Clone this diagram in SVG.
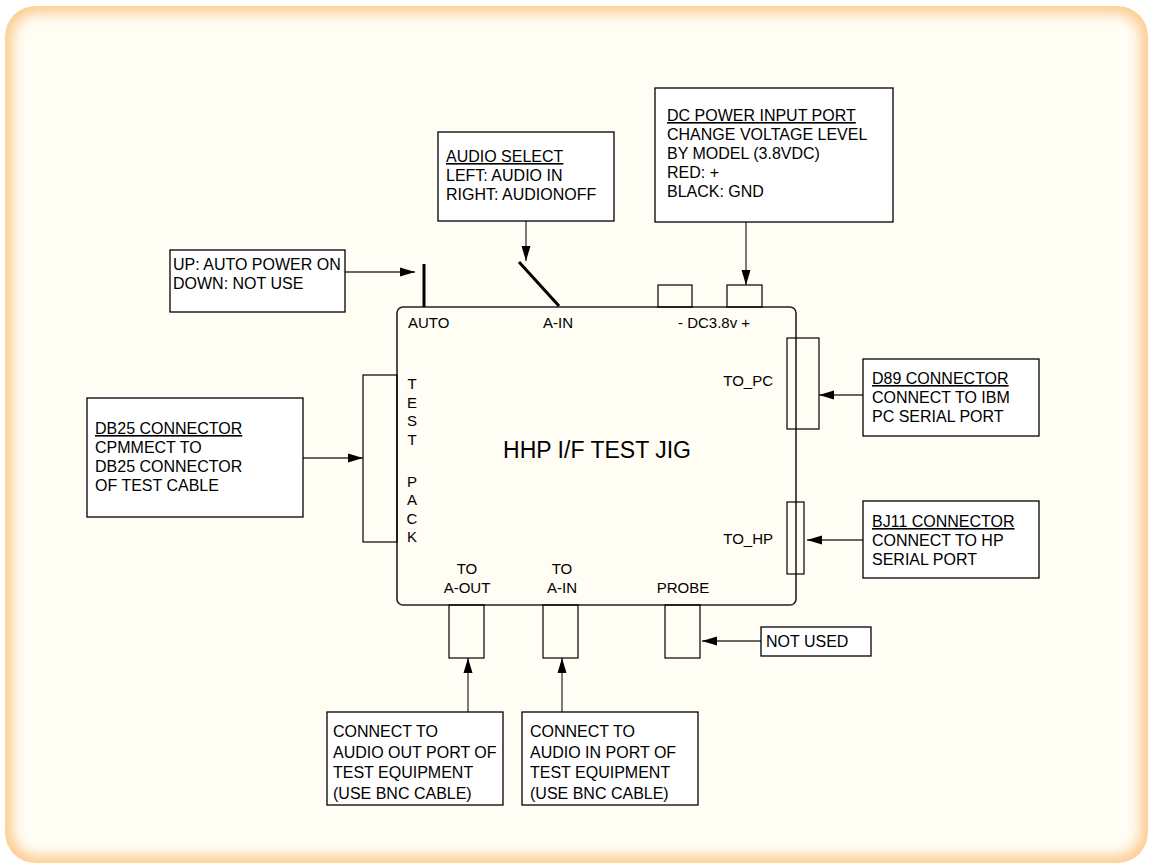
<svg xmlns="http://www.w3.org/2000/svg" width="1149" height="865" viewBox="0 0 1149 865">
<style>
.box{fill:#FFFFFF;stroke:#000;stroke-width:1.3}
.port{fill:none;stroke:#000;stroke-width:1.2}
.t{font-family:"Liberation Sans",Arial,sans-serif;font-size:16px;fill:#000}
.l{font-family:"Liberation Sans",Arial,sans-serif;font-size:15px;fill:#000}
.c{stroke:#333;stroke-width:1.3;fill:none}
.sw{stroke:#000;stroke-width:3;fill:none}
</style>
<defs>
<marker id="ah" markerUnits="userSpaceOnUse" markerWidth="16" markerHeight="10" refX="15" refY="5" orient="auto">
<path d="M0,0.5 L15,5 L0,9.5 Z" fill="#000"/>
</marker>
<clipPath id="bgc"><rect x="5" y="6" width="1143" height="857" rx="30"/></clipPath>
<filter id="blur" x="-5%" y="-5%" width="110%" height="110%"><feGaussianBlur stdDeviation="6"/></filter>
</defs>
<g id="background" clip-path="url(#bgc)">
<rect x="5" y="6" width="1143" height="857" rx="30" fill="#FDCF95"/>
<rect x="13" y="14" width="1127" height="841" rx="24" fill="#FFFDF4" filter="url(#blur)"/>
</g>
<g id="connectors">
<line class="c" x1="345" y1="272" x2="415" y2="272" marker-end="url(#ah)"/>
<line class="c" x1="526" y1="221" x2="526" y2="261" marker-end="url(#ah)"/>
<line class="c" x1="746" y1="222" x2="746" y2="285" marker-end="url(#ah)"/>
<line class="c" x1="303" y1="458" x2="363" y2="458" marker-end="url(#ah)"/>
<line class="c" x1="863" y1="395" x2="819" y2="395" marker-end="url(#ah)"/>
<line class="c" x1="863" y1="540" x2="807" y2="540" marker-end="url(#ah)"/>
<line class="c" x1="761" y1="641" x2="702" y2="641" marker-end="url(#ah)"/>
<line class="c" x1="468" y1="712" x2="468" y2="658" marker-end="url(#ah)"/>
<line class="c" x1="562" y1="712" x2="562" y2="658" marker-end="url(#ah)"/>
</g>
<g id="jig">
<rect x="397" y="307" width="399" height="298" rx="6" fill="none" stroke="#222" stroke-width="1.6"/>
<line class="sw" x1="424" y1="264" x2="424" y2="307"/>
<line class="sw" x1="519" y1="262" x2="559" y2="306"/>
<rect class="port" x="658" y="285" width="34" height="22"/>
<rect class="port" x="727" y="285" width="35" height="22"/>
<rect class="port" x="363" y="375" width="34" height="167"/>
<rect class="port" x="787" y="338" width="32" height="91"/>
<rect class="port" x="787" y="502" width="17" height="72"/>
<rect class="port" x="449" y="605" width="35" height="53"/>
<rect class="port" x="543" y="605" width="35" height="53"/>
<rect class="port" x="665" y="605" width="35" height="53"/>
<text class="l" x="408" y="328">AUTO</text>
<text class="l" x="543" y="328">A-IN</text>
<text class="l" x="678" y="328">- DC3.8v +</text>
<text class="l" x="773" y="386" text-anchor="end">TO_PC</text>
<text class="l" x="773" y="543.5" text-anchor="end">TO_HP</text>
<g class="l" text-anchor="middle">
<text x="412" y="389">T</text>
<text x="412" y="407.5">E</text>
<text x="412" y="426">S</text>
<text x="412" y="444.5">T</text>
<text x="412" y="487">P</text>
<text x="412" y="505">A</text>
<text x="412" y="523.5">C</text>
<text x="412" y="542">K</text>
<text x="467" y="574">TO</text>
<text x="467" y="593">A-OUT</text>
<text x="562" y="574">TO</text>
<text x="562" y="593">A-IN</text>
<text x="683" y="593">PROBE</text>
</g>
<text x="597" y="458" text-anchor="middle" font-family="Liberation Sans, Arial, sans-serif" font-size="23">HHP I/F TEST JIG</text>
</g>
<g id="auto-note">
<rect class="box" x="170" y="250" width="175" height="62"/>
<text class="t" x="173" y="269.5">UP: AUTO POWER ON</text>
<text class="t" x="173" y="288.5">DOWN: NOT USE</text>
</g>
<g id="audio-select">
<rect class="box" x="438" y="132" width="176" height="89"/>
<text class="t" x="446" y="162" text-decoration="underline">AUDIO SELECT</text>
<text class="t" x="446" y="181">LEFT: AUDIO IN</text>
<text class="t" x="446" y="200">RIGHT: AUDIONOFF</text>
</g>
<g id="dc-power">
<rect class="box" x="655" y="88" width="238" height="134"/>
<text class="t" x="667" y="121" text-decoration="underline">DC POWER INPUT PORT</text>
<text class="t" x="667" y="140">CHANGE VOLTAGE LEVEL</text>
<text class="t" x="667" y="159">BY MODEL (3.8VDC)</text>
<text class="t" x="667" y="178">RED: +</text>
<text class="t" x="667" y="197">BLACK: GND</text>
</g>
<g id="db25">
<rect class="box" x="87" y="398" width="216" height="119"/>
<text class="t" x="95" y="434" text-decoration="underline">DB25 CONNECTOR</text>
<text class="t" x="95" y="453">CPMMECT TO</text>
<text class="t" x="95" y="472">DB25 CONNECTOR</text>
<text class="t" x="95" y="491">OF TEST CABLE</text>
</g>
<g id="d89">
<rect class="box" x="863" y="359" width="176" height="77"/>
<text class="t" x="872" y="384" text-decoration="underline">D89 CONNECTOR</text>
<text class="t" x="872" y="403">CONNECT TO IBM</text>
<text class="t" x="872" y="422">PC SERIAL PORT</text>
</g>
<g id="bj11">
<rect class="box" x="863" y="501" width="176" height="77"/>
<text class="t" x="872" y="527" text-decoration="underline">BJ11 CONNECTOR</text>
<text class="t" x="872" y="546">CONNECT TO HP</text>
<text class="t" x="872" y="565">SERIAL PORT</text>
</g>
<g id="not-used">
<rect class="box" x="761" y="627" width="110" height="29"/>
<text class="t" x="766" y="647">NOT USED</text>
</g>
<g id="audio-out-note">
<rect class="box" x="327" y="712" width="176" height="93"/>
<text class="t" x="333" y="737">CONNECT TO</text>
<text class="t" x="333" y="757.5">AUDIO OUT PORT OF</text>
<text class="t" x="333" y="778">TEST EQUIPMENT</text>
<text class="t" x="333" y="798.5">(USE BNC CABLE)</text>
</g>
<g id="audio-in-note">
<rect class="box" x="522" y="712" width="176" height="93"/>
<text class="t" x="530" y="737">CONNECT TO</text>
<text class="t" x="530" y="757.5">AUDIO IN PORT OF</text>
<text class="t" x="530" y="778">TEST EQUIPMENT</text>
<text class="t" x="530" y="798.5">(USE BNC CABLE)</text>
</g>
</svg>
